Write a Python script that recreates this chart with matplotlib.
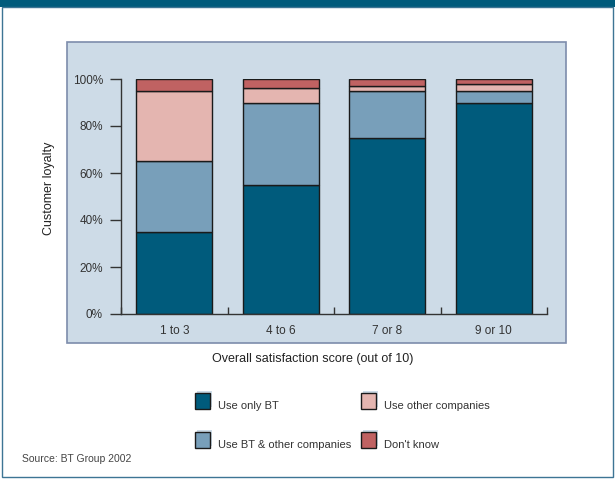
import numpy as np
import matplotlib
matplotlib.use("Agg")
from matplotlib import pyplot as plt
from matplotlib.patches import Rectangle

plt.rcParams["font.family"] = ["Liberation Sans", "DejaVu Sans"]

# data (percent of customers)
categories = ["1 to 3", "4 to 6", "7 or 8", "9 or 10"]
only_bt = [35, 55, 75, 90]
bt_and_other = [30, 35, 20, 5]
other_only = [30, 6, 2, 3]
dont_know = [5, 4, 3, 2]
series_names = ["Use only BT", "Use BT & other companies", "Use other companies", "Don't know"]
series_colors = ["#005b7c", "#789fba", "#e4b5b0", "#c06262"]
y_ticks = [0, 20, 40, 60, 80, 100]

W, H = 615, 480
fig = plt.figure(figsize=(W / 100, H / 100), dpi=100)
fig.patch.set_facecolor("white")


def px(x0, y0, x1, y1):
    # pixel box (top-left origin) -> figure fraction rect
    return (x0 / W, 1 - y1 / H, (x1 - x0) / W, (y1 - y0) / H)


def fig_rect(x0, y0, x1, y1, **kw):
    l, b, w, h = px(x0, y0, x1, y1)
    fig.patches.append(Rectangle((l, b), w, h, transform=fig.transFigure, **kw))


# header band and outer frame
fig_rect(0, 0, W, 7, facecolor="#005b7c", edgecolor="none")
fig_rect(2, 7, 613, 477, facecolor="none", edgecolor="#3d7594", lw=1.0)
# panel behind the chart
fig_rect(67, 42, 566, 343, facecolor="#cddbe7", edgecolor="#7d8cab", lw=1.2)

ax = fig.add_axes(px(121, 79, 547, 314))
ax.set_facecolor("none")
ax.set_zorder(3)

x = np.arange(len(categories))
stack = [only_bt, bt_and_other, other_only, dont_know]
bottom = np.zeros(len(categories))
for vals, name, col in zip(stack, series_names, series_colors):
    ax.bar(x, vals, width=0.715, bottom=bottom, color=col, edgecolor="#1a1a1a",
           linewidth=1.0, label=name)
    bottom += np.array(vals)

ax.set_xlim(-0.5, len(categories) - 0.5)
ax.set_ylim(0, 100)
ax.set_yticks(y_ticks)
ax.set_yticklabels([f"{v}%" for v in y_ticks])
ax.set_xticks(x)
ax.set_xticklabels(categories)
ax.set_xticks(np.arange(-0.5, len(categories)), minor=True)
ax.tick_params(axis="x", which="major", length=0, pad=8, labelsize=8.5, labelcolor="#333333")
ax.tick_params(axis="x", which="minor", direction="in", length=5, width=1, color="#333333")
ax.tick_params(axis="y", direction="out", length=8, width=1, pad=5, labelsize=8.5,
               labelcolor="#333333", color="#333333")
for s in ["top", "right"]:
    ax.spines[s].set_visible(False)
for s in ["left", "bottom"]:
    ax.spines[s].set_color("#333333")
    ax.spines[s].set_linewidth(1.0)

fig.text(49 / W, 1 - 188 / H, "Customer loyalty", rotation=90, ha="center", va="center",
         fontsize=9, color="#222222")
fig.text(313 / W, 1 - 359 / H, "Overall satisfaction score (out of 10)", ha="center",
         va="center", fontsize=9, color="#222222")

# legend, two columns
legend_pos = [(195, 393), (195, 432), (361, 393), (361, 432)]
for (lx, ly), name, col in zip(legend_pos, series_names, series_colors):
    fig_rect(lx + 2, ly - 2, lx + 17, ly + 14, facecolor="#cddbe7", edgecolor="none")
    fig_rect(lx, ly, lx + 15, ly + 16, facecolor=col, edgecolor="#1a1a1a", lw=1.0)
    fig.text((lx + 23) / W, 1 - (ly + 13) / H, name, ha="left", va="center",
             fontsize=8, color="#333333")

fig.text(22 / W, 1 - 459 / H, "Source: BT Group 2002", ha="left", va="center",
         fontsize=7.5, color="#444444")

fig.savefig("out.png", dpi=100)
